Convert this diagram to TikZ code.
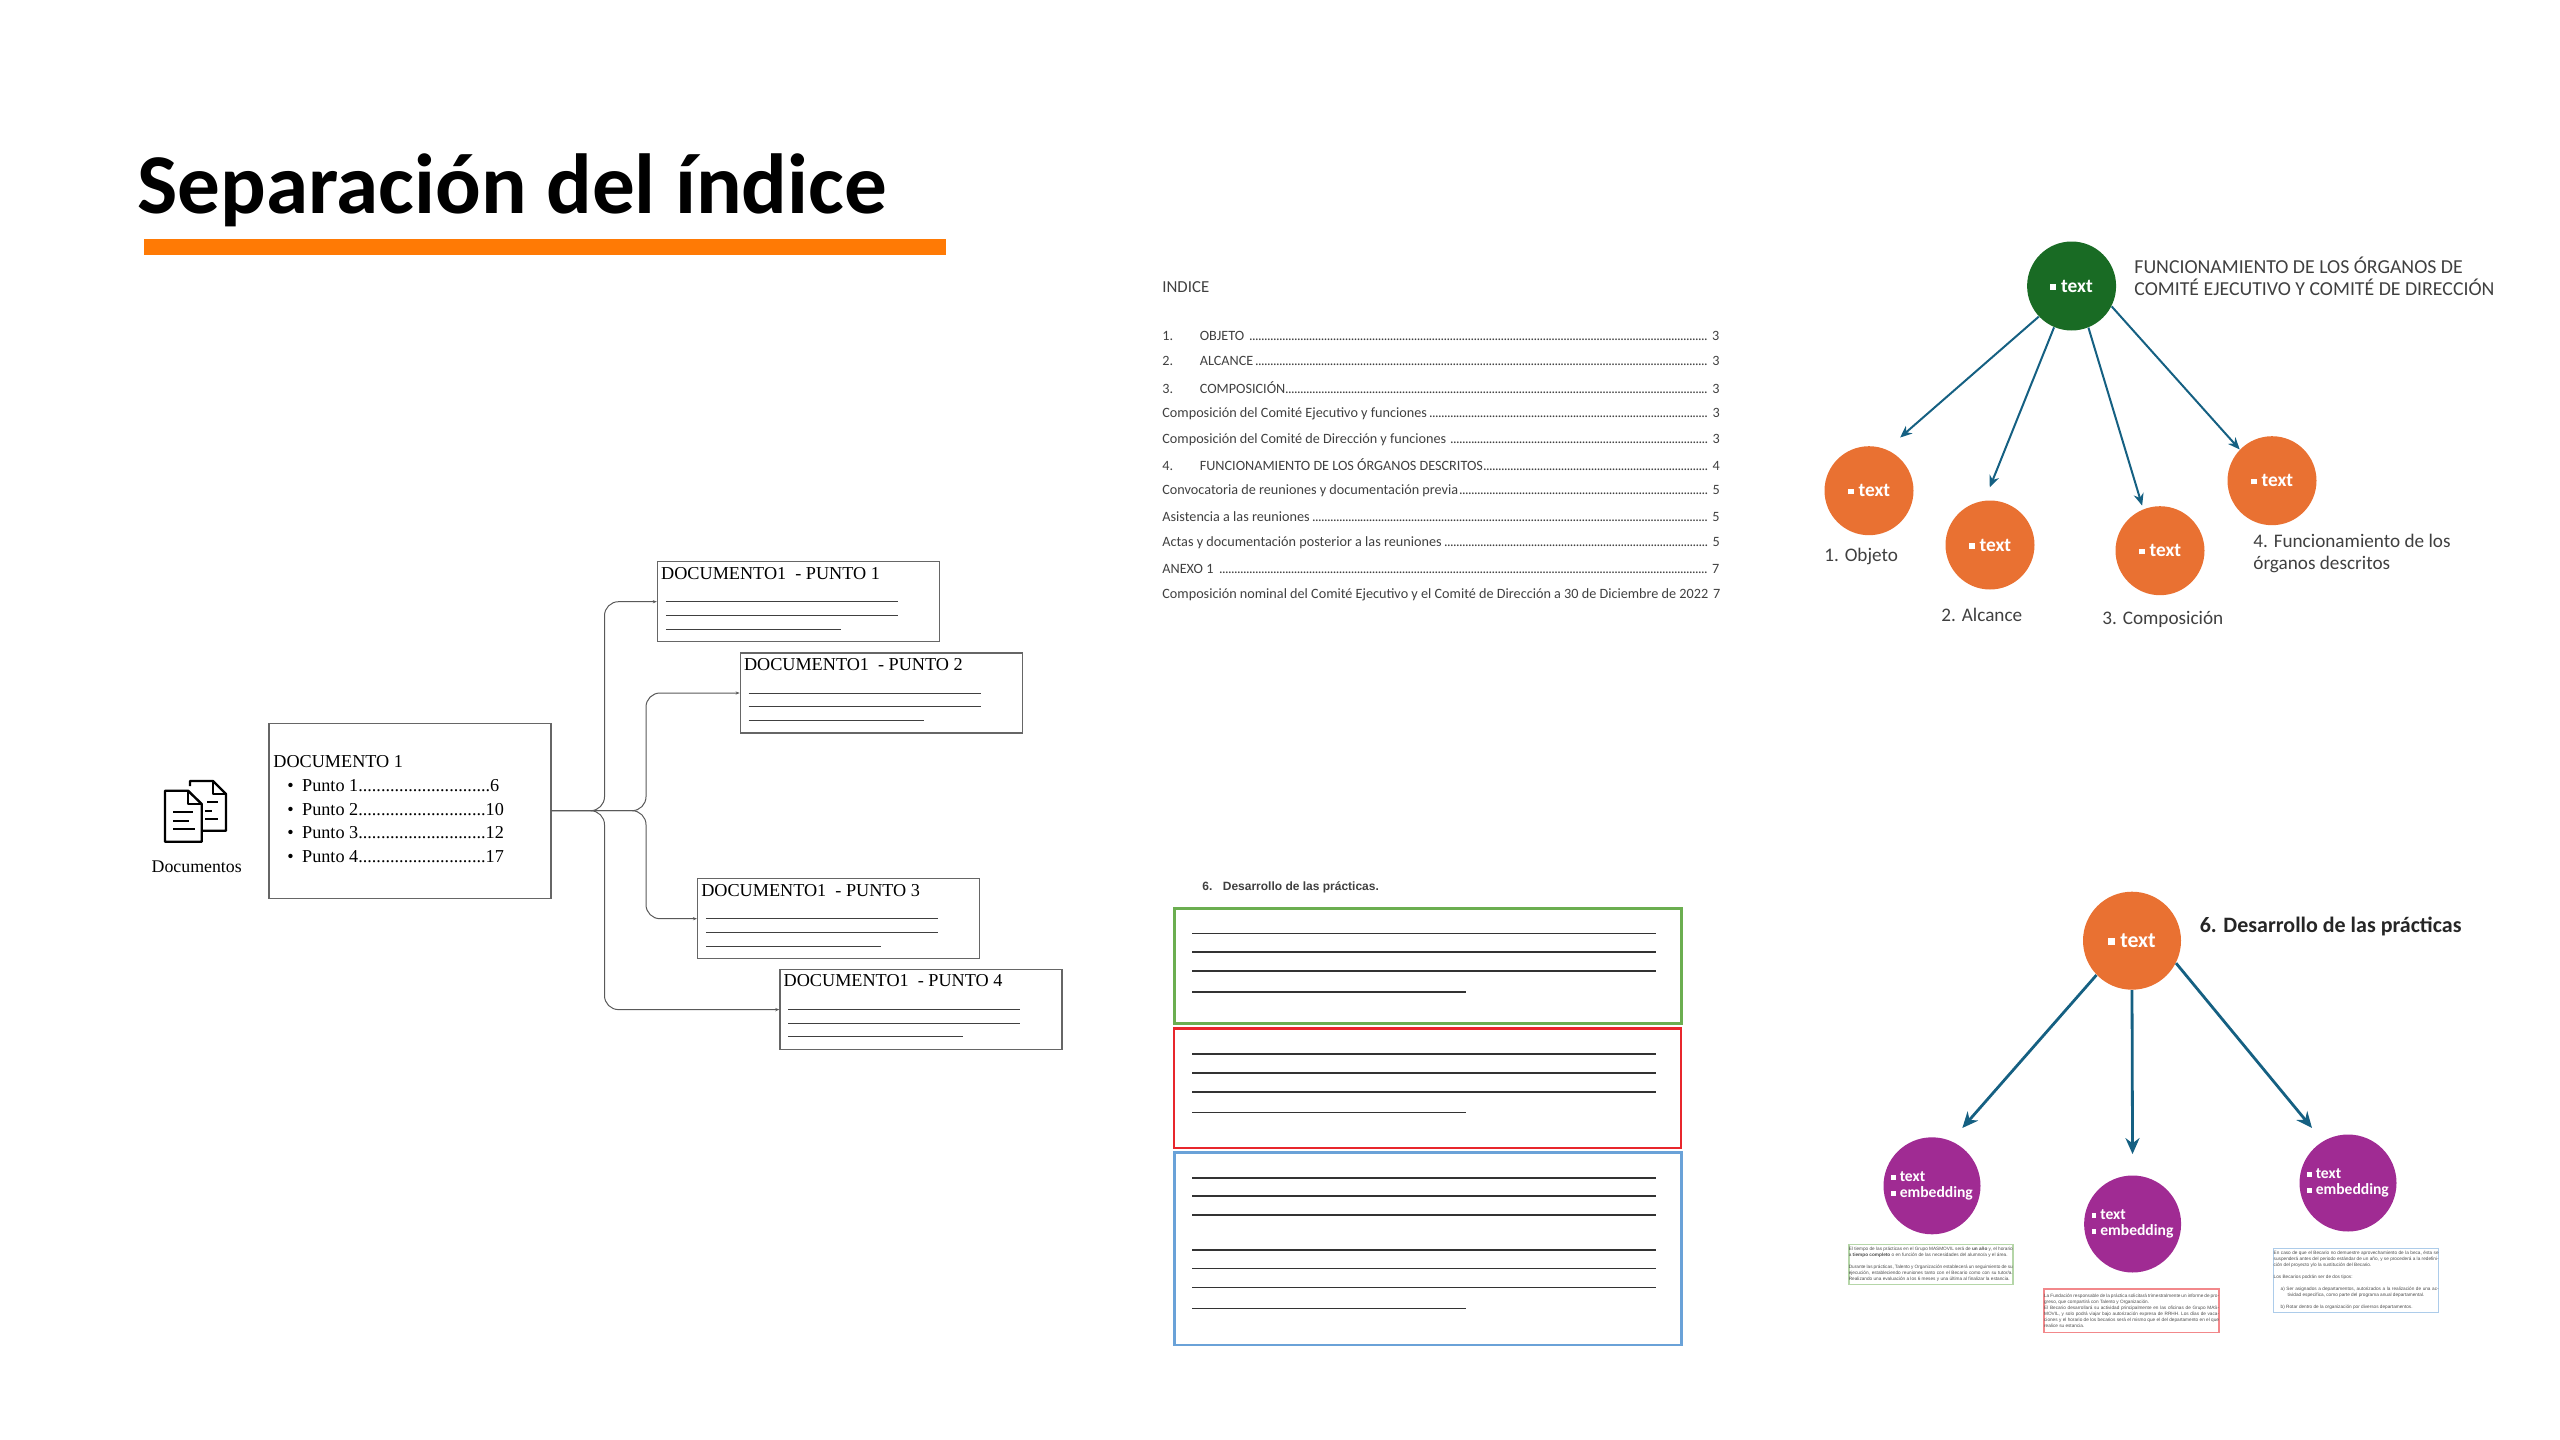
\documentclass[tikz,border=0pt]{standalone}
\usepackage{fontspec}
\setmainfont{Carlito}
\newfontfamily\docfont{Liberation Serif}
\newfontfamily\arialfont{Liberation Sans}
\usetikzlibrary{arrows.meta}

\definecolor{barorange}{HTML}{FF7A05}
\definecolor{nodeorange}{HTML}{E97132}
\definecolor{nodegreen}{HTML}{196B24}
\definecolor{nodepurple}{HTML}{A02B93}
\definecolor{arrowblue}{HTML}{156082}
\definecolor{inktext}{HTML}{404040}
\definecolor{boxgreen}{HTML}{6BAE50}
\definecolor{boxred}{HTML}{E8262C}
\definecolor{boxblue}{HTML}{6AA2D8}

\newcommand{\sqbullet}{\rule[.12em]{.3em}{.3em}\hspace{.25em}}
\newcommand{\idxdots}{\leaders\hbox to 1.5pt{\hss.\hss}\hfill}
\newcommand{\idxrow}[2]{\hbox to 279pt{#1\idxdots\,#2}}

\tikzset{
  docbox/.style={draw=black!60, line width=.6pt, fill=white, minimum width=141pt, minimum height=40pt, inner sep=0pt},
  doctitle/.style={anchor=west, inner sep=0pt, font=\docfont\fontsize{9.1}{10}\selectfont},
  docline/.style={draw=black!75, line width=.5pt},
  doclink/.style={draw=black!65, line width=.5pt, rounded corners=7pt, -{Stealth[length=2pt,width=1.6pt]}},
  idx/.style={anchor=west, inner sep=0pt, text=inktext, font=\fontsize{7.1}{8}\selectfont},
  bubble/.style={circle, minimum size=44.5pt, inner sep=0pt, text=white, font=\bfseries\fontsize{9.7}{11}\selectfont},
  bigbubble/.style={bubble, minimum size=49pt},
  twobubble/.style={bubble, minimum size=48.5pt, align=left, font=\bfseries\fontsize{7.8}{8}\selectfont},
  tag/.style={anchor=west, inner sep=0pt, text=inktext, align=left, font=\fontsize{9.6}{10.8}\selectfont},
  spoke/.style={draw=arrowblue, line width=1pt, -{Stealth[length=6pt,width=5pt]}},
  widespoke/.style={draw=arrowblue, line width=1.4pt, -{Stealth[length=8pt,width=7pt]}},
  bigbox/.style={line width=1.4pt, minimum width=253.5pt, inner sep=0pt},
  rowline/.style={draw=black!80, line width=.8pt},
  notebox/.style={draw, line width=.7pt, inner sep=0pt, align=justify, text=black!70, font=\arialfont\fontsize{2.35}{3}\selectfont},
}

\begin{document}
\begin{tikzpicture}[x=.5pt, y=-.5pt]
\path[use as bounding box] (0,0) rectangle (2560,1440);

% title
\node[anchor=base west, inner sep=0pt, font=\bfseries\fontsize{42.6}{50}\selectfont] (title) at (137,213) {Separación del índice};
\fill[barorange] (144,239) rectangle (945.5,255);

% document icon
\begin{scope}[line width=1.2pt, line join=round]
  \draw (190,786) -- (190,781) -- (213,781) -- (226,794) -- (226,830.7) -- (203,830.7);
  \draw (213,781) -- (213,794) -- (226,794);
  \draw (207,802) -- (218,802);
  \draw (205,811) -- (212,811);
  \draw (205,819) -- (218,819);
  \draw (165,790.7) -- (188,790.7) -- (201.7,804) -- (201.7,841.7) -- (165,841.7) -- cycle;
  \draw (188,790.7) -- (188,804) -- (201.7,804);
  \draw (173,811.7) -- (193,811.7);
  \draw (173,821) -- (189,821);
  \draw (173,829) -- (195,829);
\end{scope}
\node[inner sep=0pt, font=\docfont\fontsize{8.9}{10}\selectfont] (iconlabel) at (196.7,866.7) {Documentos};

% document 1 and its points
\node[docbox, minimum height=87.5pt] (main) at (410,810.7) {};
\node[doctitle] (maintitle) at (273,761.7) {DOCUMENTO 1};
\node[doctitle, align=left, font=\docfont\fontsize{9.1}{11.75}\selectfont] (mainlist) at (287,821)
  {\textbullet\hspace{4.2pt}Punto 1.............................6\\
   \textbullet\hspace{4.2pt}Punto 2............................10\\
   \textbullet\hspace{4.2pt}Punto 3............................12\\
   \textbullet\hspace{4.2pt}Punto 4............................17};

\node[docbox] (pone) at (798.4,601.7) {};
\node[docbox] (ptwo) at (881.2,693) {};
\node[docbox] (pthree) at (838.5,918.7) {};
\node[docbox] (pfour) at (920.9,1009.6) {};

\node[doctitle] (ponetitle) at ([xshift=2pt,yshift=-6pt]pone.north west) {DOCUMENTO1\ \ - PUNTO 1};
\node[doctitle] (ptwotitle) at ([xshift=2pt,yshift=-6pt]ptwo.north west) {DOCUMENTO1\ \ - PUNTO 2};
\node[doctitle] (pthreetitle) at ([xshift=2pt,yshift=-6pt]pthree.north west) {DOCUMENTO1\ \ - PUNTO 3};
\node[doctitle] (pfourtitle) at ([xshift=2pt,yshift=-6pt]pfour.north west) {DOCUMENTO1\ \ - PUNTO 4};

\begin{scope}[shift={(pone.north west)}]
  \draw[docline] (9,40.6) -- (241,40.6);
  \draw[docline] (9,54.3) -- (241,54.3);
  \draw[docline] (9,67.9) -- (184,67.9);
\end{scope}
\begin{scope}[shift={(ptwo.north west)}]
  \draw[docline] (9,40.6) -- (241,40.6);
  \draw[docline] (9,54.3) -- (241,54.3);
  \draw[docline] (9,67.9) -- (184,67.9);
\end{scope}
\begin{scope}[shift={(pthree.north west)}]
  \draw[docline] (9,40.6) -- (241,40.6);
  \draw[docline] (9,54.3) -- (241,54.3);
  \draw[docline] (9,67.9) -- (184,67.9);
\end{scope}
\begin{scope}[shift={(pfour.north west)}]
  \draw[docline] (9,40.6) -- (241,40.6);
  \draw[docline] (9,54.3) -- (241,54.3);
  \draw[docline] (9,67.9) -- (184,67.9);
\end{scope}

\coordinate (outerup) at (604.5,700);
\coordinate (innerup) at (646,760);
\coordinate (innerdown) at (646,860);
\coordinate (outerdown) at (604.5,900);
\draw[doclink] (main.east) -| (outerup) |- (pone.west);
\draw[doclink] (main.east) -| (innerup) |- (ptwo.west);
\draw[doclink] (main.east) -| (innerdown) |- (pthree.west);
\draw[doclink] (main.east) -| (outerdown) |- (pfour.west);

% index page
\node[idx, font=\fontsize{8.4}{9}\selectfont] (idxtitle) at (1162,286.7) {INDICE};
\node[idx] (idxa) at (1162,335.7) {\idxrow{\makebox[18.7pt][l]{1.}OBJETO }{3}};
\node[idx] (idxb) at (1162,361.3) {\idxrow{\makebox[18.7pt][l]{2.}ALCANCE}{3}};
\node[idx] (idxc) at (1162,387.3) {\idxrow{\makebox[18.7pt][l]{3.}COMPOSICIÓN}{3}};
\node[idx] (idxd) at (1162,413.3) {\idxrow{Composición del Comité Ejecutivo y funciones}{3}};
\node[idx] (idxe) at (1162,439.3) {\idxrow{Composición del Comité de Dirección y funciones }{3}};
\node[idx] (idxf) at (1162,464.7) {\idxrow{\makebox[18.7pt][l]{4.}FUNCIONAMIENTO DE LOS ÓRGANOS DESCRITOS}{4}};
\node[idx] (idxg) at (1162,490.7) {\idxrow{Convocatoria de reuniones y documentación previa}{5}};
\node[idx] (idxh) at (1162,516.7) {\idxrow{Asistencia a las reuniones}{5}};
\node[idx] (idxi) at (1162,542.7) {\idxrow{Actas y documentación posterior a las reuniones}{5}};
\node[idx] (idxj) at (1162,568.7) {\idxrow{ANEXO 1 }{7}};
\node[idx] (idxk) at (1162,595) {\hbox to 279pt{Composición nominal del Comité Ejecutivo y el Comité de Dirección a 30 de Diciembre de 2022\hfill 7}};

% tree of the index
\node[bubble, fill=nodegreen] (root) at (2071.6,286) {\sqbullet text};
\node[bubble, fill=nodeorange] (uno) at (1869,490.7) {\sqbullet text};
\node[bubble, fill=nodeorange] (dos) at (1990,545) {\sqbullet text};
\node[bubble, fill=nodeorange] (tres) at (2160,550.7) {\sqbullet text};
\node[bubble, fill=nodeorange] (cuatro) at (2272,480.7) {\sqbullet text};

\draw[spoke, shorten >=9pt] (root.223) -- (uno.67);
\draw[spoke, shorten >=7pt] (root.247) -- (dos.97);
\draw[spoke, shorten >=1.8pt] (root.292) -- (tres.112);
\draw[spoke] (root.333) -- (cuatro.136);

\node[tag, font=\fontsize{9.9}{11}\selectfont] (roottag) at (2134,276) {FUNCIONAMIENTO DE LOS ÓRGANOS DE\\COMITÉ EJECUTIVO Y COMITÉ DE DIRECCIÓN};
\node[tag] (unotag) at (1824,556.7) {1. Objeto};
\node[tag] (dostag) at (1941,615) {2. Alcance};
\node[tag] (trestag) at (2102,619) {3. Composición};
\node[tag] (cuatrotag) at (2253,553.5) {4. Funcionamiento de los\\órganos descritos};

% section with the coloured blocks
\node[anchor=west, inner sep=0pt, text=inktext, font=\arialfont\bfseries\fontsize{6}{7}\selectfont] (sectitle) at (1202,887.3) {6.\hspace{3pt} Desarrollo de las prácticas.};
\node[bigbox, draw=boxgreen, minimum height=57.3pt] (greenblock) at (1428,966) {};
\node[bigbox, draw=boxred, minimum height=59.8pt] (redblock) at (1427.4,1088.2) {};
\node[bigbox, draw=boxblue, minimum height=96.1pt] (blueblock) at (1428,1248.8) {};

\draw[rowline] (1192,933.3) -- (1655.7,933.3);
\draw[rowline] (1192,952) -- (1655.7,952);
\draw[rowline] (1192,971) -- (1655.7,971);
\draw[rowline] (1192,991.7) -- (1466,991.7);

\draw[rowline] (1192,1053.7) -- (1655.7,1053.7);
\draw[rowline] (1192,1072.7) -- (1655.7,1072.7);
\draw[rowline] (1192,1091.7) -- (1655.7,1091.7);
\draw[rowline] (1192,1112.3) -- (1466,1112.3);

\draw[rowline] (1192,1177.7) -- (1655.7,1177.7);
\draw[rowline] (1192,1196) -- (1655.7,1196);
\draw[rowline] (1192,1214.7) -- (1655.7,1214.7);
\draw[rowline] (1192,1249.7) -- (1655.7,1249.7);
\draw[rowline] (1192,1268.3) -- (1655.7,1268.3);
\draw[rowline] (1192,1287.3) -- (1655.7,1287.3);
\draw[rowline] (1192,1308.3) -- (1466,1308.3);

% tree of the section
\node[bigbubble, fill=nodeorange, font=\bfseries\fontsize{10.9}{12}\selectfont] (top) at (2132,940.7) {\sqbullet text};
\node[twobubble, fill=nodepurple] (left) at (1932,1185.8) {\sqbullet text\\\sqbullet embedding};
\node[twobubble, fill=nodepurple] (mid) at (2132.6,1224) {\sqbullet text\\\sqbullet embedding};
\node[twobubble, fill=nodepurple] (right) at (2348,1183) {\sqbullet text\\\sqbullet embedding};

\draw[widespoke, shorten >=8.5pt] (top.224) -- (left.67);
\draw[widespoke, shorten >=10.5pt] (top.270) -- (mid.90);
\draw[widespoke, shorten >=8.5pt] (top.333) -- (right.121);

\node[anchor=west, inner sep=0pt, text=black!85, font=\bfseries\fontsize{11}{12}\selectfont] (toptag) at (2199.4,926.7) {6. Desarrollo de las prácticas};

\node[notebox, draw=boxgreen!50, text width=82pt, minimum height=19.8pt] (leftnote) at (1930.8,1264.5)
  {El tiempo de las prácticas en el Grupo MASMOVIL será de \textbf{un año} y, el horario a \textbf{tiempo completo} o en función de las necesidades del alumno/a y el área.\par\vspace{3pt}
   Durante las prácticas, Talento y Organización establecerá un seguimiento de su ejecución, estableciendo reuniones tanto con el Becario como con su tutor/a. Realizando una evaluación a los 6 meses y una última al finalizar la estancia.};
\node[notebox, draw=boxred!55, text width=87.5pt, minimum height=21.6pt] (midnote) at (2131.6,1310.6)
  {La Fundación responsable de la práctica solicitará trimestralmente un informe de progreso, que compartirá con Talento y Organización.\par
   El Becario desarrollará su actividad principalmente en las oficinas de Grupo MASMOVIL, y solo podrá viajar bajo autorización expresa de RRHH. Los días de vacaciones y el horario de los becarios será el mismo que el del departamento en el que realice su estancia.};
\node[notebox, draw=boxblue!55, text width=82.5pt, minimum height=32pt] (rightnote) at (2356.2,1280.5)
  {En caso de que el Becario no demuestre aprovechamiento de la beca, ésta se suspenderá antes del periodo estándar de un año, y se procederá a la redefinición del proyecto y/o la sustitución del Becario.\par\vspace{3pt}
   Los Becarios podrán ser de dos tipos:\par\vspace{3pt}
   {\leftskip=7pt\parindent=-3.5pt a)\ Ser asignados a departamentos, autorizados a la realización de una actividad específica, como parte del programa anual departamental.\par\vspace{3pt}
   b)\ Rotar dentro de la organización por diversos departamentos.\par}};

\end{tikzpicture}
\end{document}
